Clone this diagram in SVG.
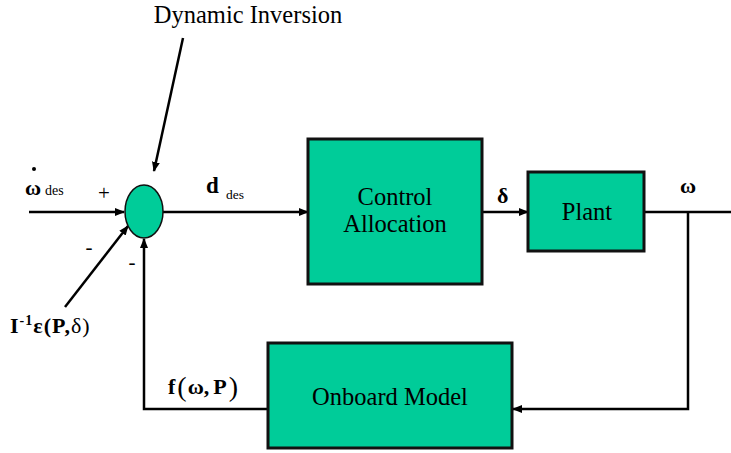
<svg xmlns="http://www.w3.org/2000/svg" width="731" height="453" viewBox="0 0 731 453">
<style>
.box{fill:#00CC99;stroke:#111;stroke-width:3}
.ln{fill:none;stroke:#000;stroke-width:2.5}
text{font-family:'Liberation Serif','Times New Roman','DejaVu Serif',serif;fill:#000}
.b{font-weight:bold}
.lbl{font-size:24.5px}
</style>
<defs>
<marker id="ah" markerWidth="10" markerHeight="8" refX="9" refY="4" orient="auto" markerUnits="userSpaceOnUse">
<path d="M0,0 L10,4 L0,8 Z" fill="#000"/>
</marker>
</defs>
<rect width="731" height="453" fill="#fff"/>
<g id="connectors">
<line class="ln" x1="29" y1="212" x2="124" y2="212" marker-end="url(#ah)"/>
<line class="ln" x1="163" y1="212" x2="308" y2="212" marker-end="url(#ah)"/>
<line class="ln" x1="482" y1="212" x2="528" y2="212" marker-end="url(#ah)"/>
<line class="ln" x1="644" y1="212" x2="731" y2="212"/>
<polyline class="ln" points="688,212 688,409 513,409" marker-end="url(#ah)"/>
<polyline class="ln" points="268,409 144,409 144,239" marker-end="url(#ah)"/>
<line class="ln" x1="65" y1="307" x2="128" y2="226" marker-end="url(#ah)"/>
<line class="ln" x1="183" y1="38" x2="154" y2="171" marker-end="url(#ah)"/>
</g>
<g id="sum">
<ellipse cx="144" cy="211.5" rx="19" ry="26.5" fill="#00CC99" stroke="#111" stroke-width="1.5"/>
</g>
<g id="control-allocation">
<rect class="box" x="308" y="139" width="174" height="145"/>
<text class="lbl" x="395" y="205" text-anchor="middle">Control</text>
<text class="lbl" x="395" y="232" text-anchor="middle">Allocation</text>
</g>
<g id="plant">
<rect class="box" x="528" y="172" width="116" height="79"/>
<text class="lbl" x="587" y="220" text-anchor="middle">Plant</text>
</g>
<g id="onboard-model">
<rect class="box" x="268" y="343" width="244" height="105"/>
<text class="lbl" x="390" y="405" text-anchor="middle">Onboard Model</text>
</g>
<g id="labels">
<text class="lbl" x="248" y="23" text-anchor="middle">Dynamic Inversion</text>
<circle cx="34" cy="169" r="2" fill="#000"/>
<text class="b" x="25" y="195" font-size="22">ω</text>
<text x="45" y="195" font-size="14">des</text>
<text x="104" y="199.5" font-size="21" text-anchor="middle">+</text>
<text x="89" y="254" font-size="21" text-anchor="middle">-</text>
<text x="132" y="269" font-size="21" text-anchor="middle">-</text>
<text class="b" x="10" y="333" font-size="22" letter-spacing="1">I<tspan font-size="14" dy="-8">-1</tspan><tspan dy="8">ε(P,</tspan><tspan font-weight="normal">δ)</tspan></text>
<text class="b" x="206" y="193" font-size="23">d</text>
<text x="226" y="199" font-size="13.5">des</text>
<text class="b" x="497" y="203" font-size="22">δ</text>
<text class="b" x="680" y="193" font-size="22">ω</text>
<text class="b" x="168" y="394" font-size="22">f<tspan font-weight="normal" font-size="28" dy="2" dx="2">(</tspan><tspan dy="-2" dx="1">ω,</tspan><tspan dx="4">P</tspan><tspan font-weight="normal" font-size="28" dy="2" dx="2">)</tspan></text>
</g>
</svg>
